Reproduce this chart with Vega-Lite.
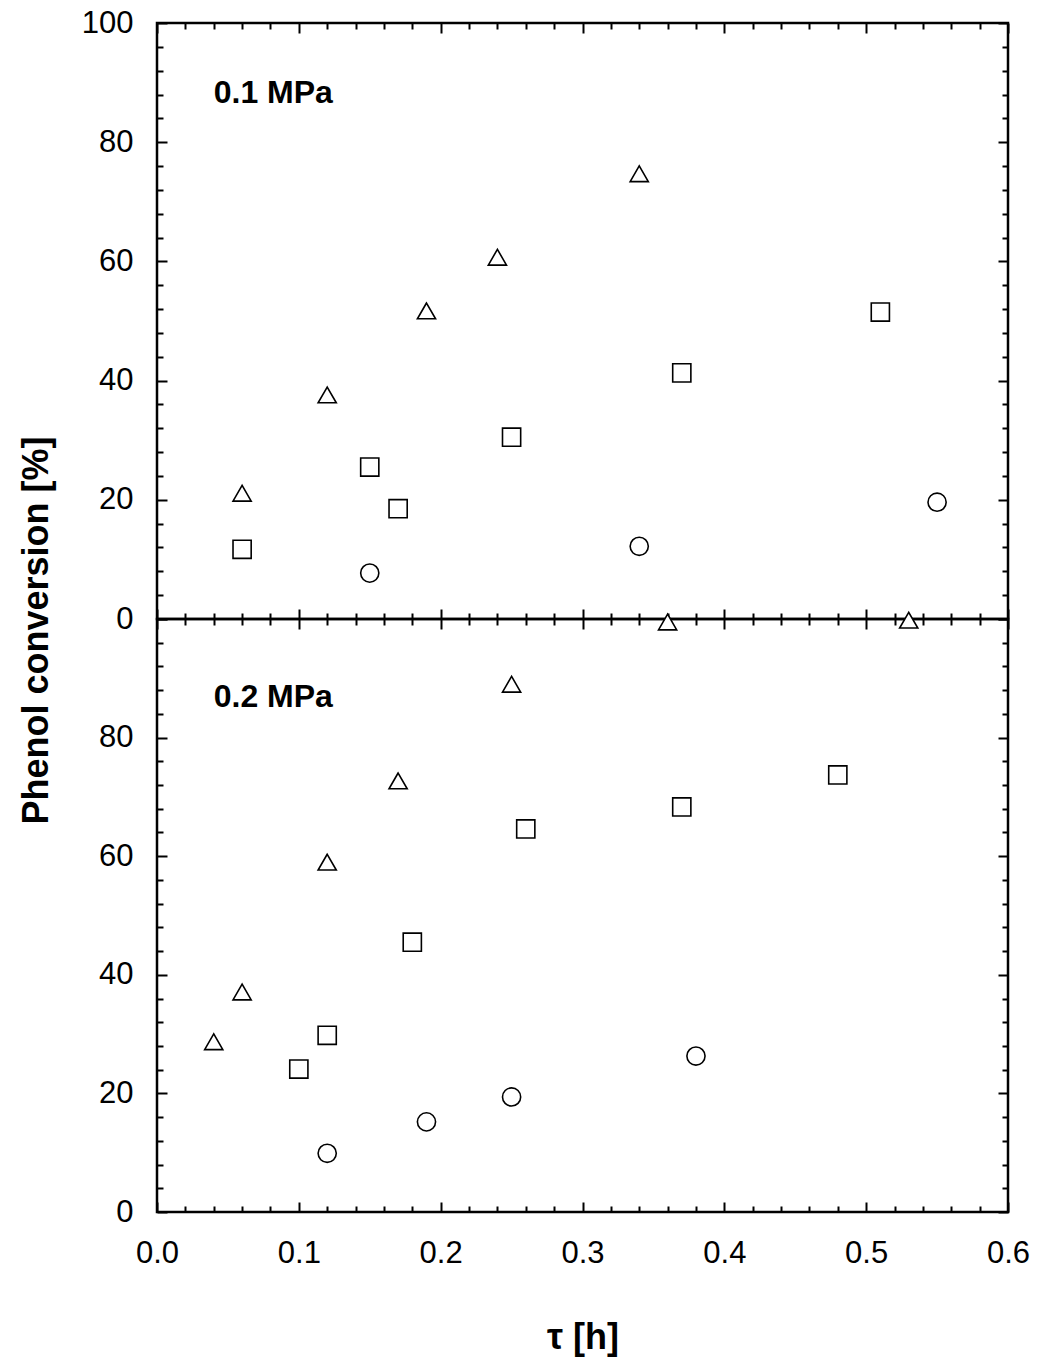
{
  "$schema": "https://vega.github.io/schema/vega-lite/v6.json",
  "background": "white",
  "padding": {"left": 17, "top": 5, "right": 5, "bottom": 5},
  "bounds": "flush",
  "spacing": 0,
  "config": {
    "font": "Liberation Sans",
    "view": {"stroke": "black", "strokeWidth": 2.5},
    "axis": {
      "domain": false, "grid": false, "tickColor": "black", "tickWidth": 2, "labelFlush": false,
      "labelFont": "Liberation Sans", "labelFontSize": 31, "labelColor": "black",
      "titleFont": "Liberation Sans", "titleFontSize": 36, "titleFontWeight": "bold", "titleColor": "black"
    }
  },
  "data": {"values": [
    {"panel": "top", "series": "tri", "tau": 0.06, "conv": 21.1},
    {"panel": "top", "series": "tri", "tau": 0.12, "conv": 37.6},
    {"panel": "top", "series": "tri", "tau": 0.19, "conv": 51.7},
    {"panel": "top", "series": "tri", "tau": 0.24, "conv": 60.7},
    {"panel": "top", "series": "tri", "tau": 0.34, "conv": 74.7},
    {"panel": "top", "series": "sq", "tau": 0.06, "conv": 11.7},
    {"panel": "top", "series": "sq", "tau": 0.15, "conv": 25.5},
    {"panel": "top", "series": "sq", "tau": 0.17, "conv": 18.5},
    {"panel": "top", "series": "sq", "tau": 0.25, "conv": 30.5},
    {"panel": "top", "series": "sq", "tau": 0.37, "conv": 41.3},
    {"panel": "top", "series": "sq", "tau": 0.51, "conv": 51.5},
    {"panel": "top", "series": "circ", "tau": 0.15, "conv": 7.7},
    {"panel": "top", "series": "circ", "tau": 0.34, "conv": 12.2},
    {"panel": "top", "series": "circ", "tau": 0.55, "conv": 19.6},
    {"panel": "bottom", "series": "tri", "tau": 0.04, "conv": 28.7},
    {"panel": "bottom", "series": "tri", "tau": 0.06, "conv": 37.1},
    {"panel": "bottom", "series": "tri", "tau": 0.12, "conv": 59.0},
    {"panel": "bottom", "series": "tri", "tau": 0.17, "conv": 72.7},
    {"panel": "bottom", "series": "tri", "tau": 0.25, "conv": 89.0},
    {"panel": "bottom", "series": "tri", "tau": 0.36, "conv": 99.5},
    {"panel": "bottom", "series": "tri", "tau": 0.53, "conv": 99.8},
    {"panel": "bottom", "series": "sq", "tau": 0.10, "conv": 24.1},
    {"panel": "bottom", "series": "sq", "tau": 0.12, "conv": 29.8},
    {"panel": "bottom", "series": "sq", "tau": 0.18, "conv": 45.5},
    {"panel": "bottom", "series": "sq", "tau": 0.26, "conv": 64.6},
    {"panel": "bottom", "series": "sq", "tau": 0.37, "conv": 68.3},
    {"panel": "bottom", "series": "sq", "tau": 0.48, "conv": 73.7},
    {"panel": "bottom", "series": "circ", "tau": 0.12, "conv": 9.9},
    {"panel": "bottom", "series": "circ", "tau": 0.19, "conv": 15.2},
    {"panel": "bottom", "series": "circ", "tau": 0.25, "conv": 19.4},
    {"panel": "bottom", "series": "circ", "tau": 0.38, "conv": 26.3}
  ]},
  "vconcat": [
    {
      "width": 851, "height": 596,
      "transform": [{"filter": "datum.panel == 'top'"}],
      "resolve": {"axis": {"x": "independent", "y": "independent"}},
      "layer": [
        {
          "mark": {"type": "point", "size": 330, "strokeWidth": 1.6, "stroke": "black", "fill": "white", "opacity": 1, "fillOpacity": 1},
          "encoding": {
            "x": {"field": "tau", "type": "quantitative", "scale": {"domain": [0, 0.6], "nice": false, "zero": false},
                  "axis": {"orient": "bottom", "values": [0, 0.1, 0.2, 0.3, 0.4, 0.5, 0.6], "tickSize": -10, "labels": false, "title": null}},
            "y": {"field": "conv", "type": "quantitative", "scale": {"domain": [0, 100], "nice": false},
                  "axis": {"orient": "left", "values": [0, 20, 40, 60, 80, 100], "tickSize": -10, "labelPadding": 34, "title": "Phenol conversion [%]", "titleY": 607, "titlePadding": 26}},
            "shape": {"field": "series", "type": "nominal", "scale": {"domain": ["tri", "sq", "circ"], "range": ["triangle-up", "square", "circle"]}, "legend": null}
          }
        },
        {
          "mark": {"type": "point", "opacity": 0},
          "encoding": {
            "x": {"field": "tau", "type": "quantitative", "axis": {"orient": "bottom", "values": [0.02, 0.04, 0.06, 0.08, 0.12, 0.14, 0.16, 0.18, 0.22, 0.24, 0.26, 0.28, 0.32, 0.34, 0.36, 0.38, 0.42, 0.44, 0.46, 0.48, 0.52, 0.54, 0.56, 0.58], "tickSize": -6, "labels": false, "title": null}},
            "y": {"field": "conv", "type": "quantitative", "axis": {"orient": "left", "values": [4, 8, 12, 16, 24, 28, 32, 36, 44, 48, 52, 56, 64, 68, 72, 76, 84, 88, 92, 96], "tickSize": -6, "labels": false, "title": null}}
          }
        },
        {
          "mark": {"type": "point", "opacity": 0},
          "encoding": {
            "x": {"field": "tau", "type": "quantitative", "axis": {"orient": "top", "values": [0, 0.1, 0.2, 0.3, 0.4, 0.5, 0.6], "tickSize": -10, "labels": false, "title": null}},
            "y": {"field": "conv", "type": "quantitative", "axis": {"orient": "right", "values": [0, 20, 40, 60, 80, 100], "tickSize": -10, "labels": false, "title": null}}
          }
        },
        {
          "mark": {"type": "point", "opacity": 0},
          "encoding": {
            "x": {"field": "tau", "type": "quantitative", "axis": {"orient": "top", "values": [0.02, 0.04, 0.06, 0.08, 0.12, 0.14, 0.16, 0.18, 0.22, 0.24, 0.26, 0.28, 0.32, 0.34, 0.36, 0.38, 0.42, 0.44, 0.46, 0.48, 0.52, 0.54, 0.56, 0.58], "tickSize": -6, "labels": false, "title": null}},
            "y": {"field": "conv", "type": "quantitative", "axis": {"orient": "right", "values": [4, 8, 12, 16, 24, 28, 32, 36, 44, 48, 52, 56, 64, 68, 72, 76, 84, 88, 92, 96], "tickSize": -6, "labels": false, "title": null}}
          }
        },
        {
          "data": {"values": [{"panel": "top", "tau": 0.04, "conv": 86.6, "label": "0.1 MPa"}]},
          "mark": {"type": "text", "align": "left", "baseline": "alphabetic", "fontSize": 32, "fontWeight": "bold", "font": "Liberation Sans", "color": "black"},
          "encoding": {
            "x": {"field": "tau", "type": "quantitative", "axis": null},
            "y": {"field": "conv", "type": "quantitative", "axis": null},
            "text": {"field": "label"}
          }
        }
      ]
    },
    {
      "width": 851, "height": 593,
      "transform": [{"filter": "datum.panel == 'bottom'"}],
      "resolve": {"axis": {"x": "independent", "y": "independent"}},
      "layer": [
        {
          "mark": {"type": "point", "size": 330, "strokeWidth": 1.6, "stroke": "black", "fill": "white", "opacity": 1, "fillOpacity": 1},
          "encoding": {
            "x": {"field": "tau", "type": "quantitative", "scale": {"domain": [0, 0.6], "nice": false, "zero": false},
                  "axis": {"orient": "bottom", "values": [0, 0.1, 0.2, 0.3, 0.4, 0.5, 0.6], "format": ".1f", "tickSize": -10, "labelPadding": 36, "labelFlush": false, "title": "τ [h]", "titlePadding": 52}},
            "y": {"field": "conv", "type": "quantitative", "scale": {"domain": [0, 100], "nice": false},
                  "axis": {"orient": "left", "values": [0, 20, 40, 60, 80, 100], "labelExpr": "datum.value == 100 ? '' : datum.label", "tickSize": -10, "labelPadding": 34, "title": null}},
            "shape": {"field": "series", "type": "nominal", "scale": {"domain": ["tri", "sq", "circ"], "range": ["triangle-up", "square", "circle"]}, "legend": null}
          }
        },
        {
          "mark": {"type": "point", "opacity": 0},
          "encoding": {
            "x": {"field": "tau", "type": "quantitative", "axis": {"orient": "bottom", "values": [0.02, 0.04, 0.06, 0.08, 0.12, 0.14, 0.16, 0.18, 0.22, 0.24, 0.26, 0.28, 0.32, 0.34, 0.36, 0.38, 0.42, 0.44, 0.46, 0.48, 0.52, 0.54, 0.56, 0.58], "tickSize": -6, "labels": false, "title": null}},
            "y": {"field": "conv", "type": "quantitative", "axis": {"orient": "left", "values": [4, 8, 12, 16, 24, 28, 32, 36, 44, 48, 52, 56, 64, 68, 72, 76, 84, 88, 92, 96], "tickSize": -6, "labels": false, "title": null}}
          }
        },
        {
          "mark": {"type": "point", "opacity": 0},
          "encoding": {
            "x": {"field": "tau", "type": "quantitative", "axis": {"orient": "top", "values": [0, 0.1, 0.2, 0.3, 0.4, 0.5, 0.6], "tickSize": -10, "labels": false, "title": null}},
            "y": {"field": "conv", "type": "quantitative", "axis": {"orient": "right", "values": [0, 20, 40, 60, 80, 100], "tickSize": -10, "labels": false, "title": null}}
          }
        },
        {
          "mark": {"type": "point", "opacity": 0},
          "encoding": {
            "x": {"field": "tau", "type": "quantitative", "axis": {"orient": "top", "values": [0.02, 0.04, 0.06, 0.08, 0.12, 0.14, 0.16, 0.18, 0.22, 0.24, 0.26, 0.28, 0.32, 0.34, 0.36, 0.38, 0.42, 0.44, 0.46, 0.48, 0.52, 0.54, 0.56, 0.58], "tickSize": -6, "labels": false, "title": null}},
            "y": {"field": "conv", "type": "quantitative", "axis": {"orient": "right", "values": [4, 8, 12, 16, 24, 28, 32, 36, 44, 48, 52, 56, 64, 68, 72, 76, 84, 88, 92, 96], "tickSize": -6, "labels": false, "title": null}}
          }
        },
        {
          "data": {"values": [{"panel": "bottom", "tau": 0.04, "conv": 85.2, "label": "0.2 MPa"}]},
          "mark": {"type": "text", "align": "left", "baseline": "alphabetic", "fontSize": 32, "fontWeight": "bold", "font": "Liberation Sans", "color": "black"},
          "encoding": {
            "x": {"field": "tau", "type": "quantitative", "axis": null},
            "y": {"field": "conv", "type": "quantitative", "axis": null},
            "text": {"field": "label"}
          }
        }
      ]
    }
  ]
}
